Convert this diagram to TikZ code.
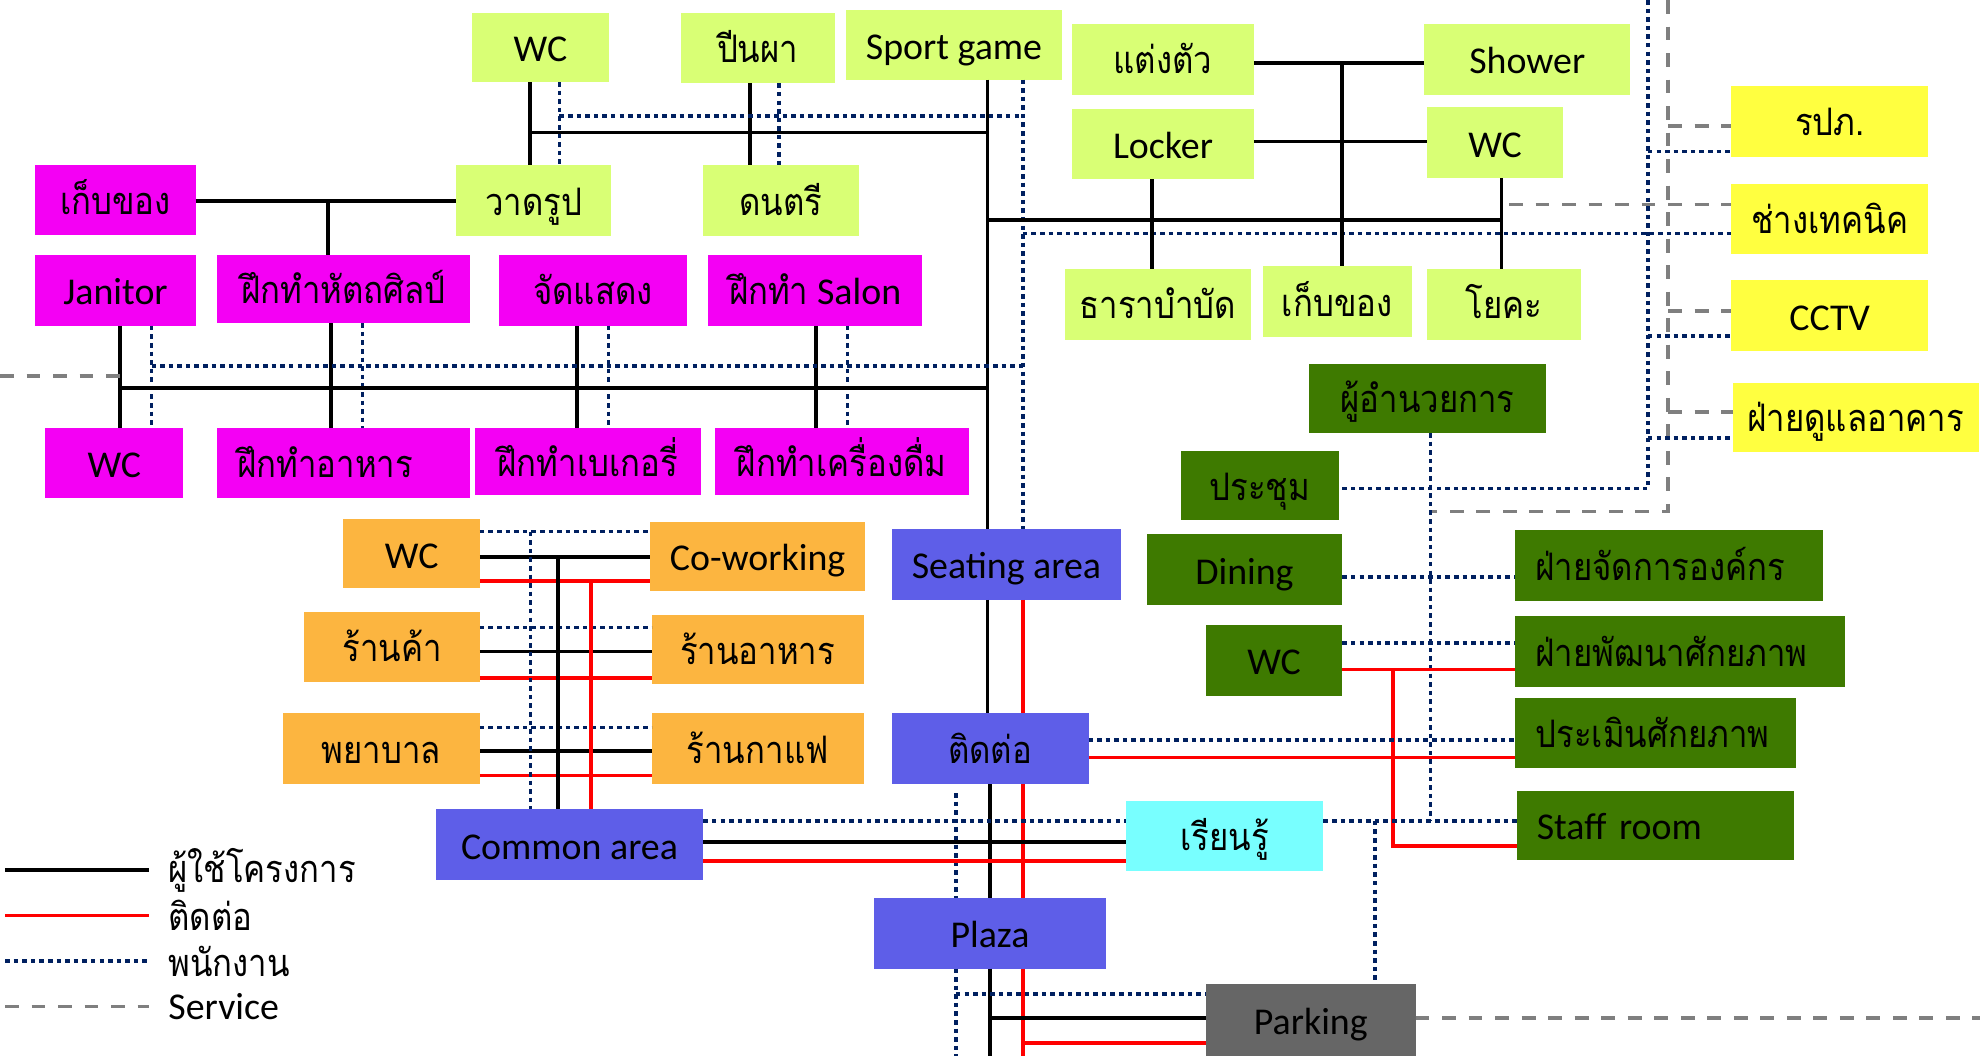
\documentclass[tikz,border=0pt]{standalone}
\usepackage{fontspec}
\setmainfont{Carlito}
\newfontfamily\thai[Script=Thai,FakeStretch=0.87]{Loma}
\definecolor{lime}{HTML}{D9FF75}
\definecolor{mag}{HTML}{F400F4}
\definecolor{orng}{HTML}{FCB540}
\definecolor{blu}{HTML}{5E5EE8}
\definecolor{cyn}{HTML}{78FFFF}
\definecolor{prk}{HTML}{666666}
\definecolor{dgr}{HTML}{3E7A00}
\definecolor{yel}{HTML}{FFFF40}
\definecolor{navy}{HTML}{002060}
\definecolor{svcgray}{HTML}{7F7F7F}
\newcommand\bx[7]{%
  \pgfmathsetmacro\bw{(#4-#2)*0.5}\pgfmathsetmacro\bh{(#5-#3)*0.5}%
  \node[box,#6,minimum width=\bw pt,minimum height=\bh pt] (#1) at ({(#2+#4)/2},{(#3+#5)/2}) {#7};}
\newcommand\bxl[7]{%
  \pgfmathsetmacro\bw{(#4-#2)*0.5-16}\pgfmathsetmacro\bh{(#5-#3)*0.5}%
  \node[box,#6,inner xsep=8pt,text width=\bw pt,align=left,minimum height=\bh pt] (#1) at ({(#2+#4)/2},{(#3+#5)/2}) {#7};}
\begin{document}
\begin{tikzpicture}[x=0.5pt,y=-0.5pt,
  box/.style={rectangle,inner sep=0pt,outer sep=0pt,text=black,text height=13pt,text depth=1.5pt,font=\fontsize{15pt}{18pt}\selectfont},
  lm/.style={fill=lime}, mg/.style={fill=mag}, og/.style={fill=orng},
  bl/.style={fill=blu}, cy/.style={fill=cyn}, pk/.style={fill=prk},
  dg/.style={fill=dgr}, yl/.style={fill=yel},
  usr/.style={draw=black,line width=1.5pt},
  ctc/.style={draw=red,line width=1.4pt},
  stf/.style={draw=navy,line width=1.4pt,dash pattern=on 1.8pt off 1.6pt},
  svc/.style={draw=svcgray,line width=1.5pt,dash pattern=on 5.5pt off 5pt},
  lgt/.style={anchor=west,inner sep=0pt,font=\fontsize{15pt}{18pt}\selectfont}]
\useasboundingbox (0,0) rectangle (1568,836);
\coordinate (jA) at (420,105); \coordinate (jB) at (443,92);
\coordinate (jS) at (782,105); \coordinate (jSd) at (810,92);
% boxes
\bx{tWC}{374}{10}{482}{65}{lm}{WC}
\bx{tClimb}{539}{10}{661}{66}{lm}{\thai ปีนผา}
\bx{tSport}{670}{8}{841}{63}{lm}{Sport game}
\bx{tDraw}{361}{131}{484}{187}{lm}{\thai วาดรูป}
\bx{tMusic}{557}{131}{680}{187}{lm}{\thai ดนตรี}
\bx{tDress}{849}{19}{993}{75}{lm}{\thai แต่งตัว}
\bx{tShower}{1128}{19}{1291}{75}{lm}{Shower}
\bx{tLocker}{849}{86}{993}{142}{lm}{Locker}
\bx{tWCb}{1130}{85}{1238}{141}{lm}{WC}
\bx{tHydro}{843}{213}{991}{269}{lm}{\thai ธาราบำบัด}
\bx{tStore}{1000}{211}{1118}{267}{lm}{\thai เก็บของ}
\bx{tYoga}{1130}{213}{1252}{269}{lm}{\thai โยคะ}
\bx{mStore}{28}{131}{155}{186}{mg}{\thai เก็บของ}
\bx{mJan}{28}{202}{155}{258}{mg}{Janitor}
\bx{mCraft}{172}{202}{372}{256}{mg}{\thai ฝึกทำหัตถศิลป์}
\bx{mShow}{395}{202}{544}{258}{mg}{\thai จัดแสดง}
\bx{mSalon}{561}{202}{730}{258}{mg}{{\thai ฝึกทำ} Salon}
\bx{mWC}{36}{339}{145}{394}{mg}{WC}
\bxl{mCook}{172}{339}{372}{394}{mg}{\thai ฝึกทำอาหาร}
\bx{mBake}{376}{339}{555}{392}{mg}{\thai ฝึกทำเบเกอรี่}
\bx{mDrink}{566}{339}{767}{392}{mg}{\thai ฝึกทำเครื่องดื่ม}
\bx{oWC}{272}{411}{380}{466}{og}{WC}
\bx{oCow}{515}{413}{685}{468}{og}{Co-working}
\bx{oShop}{241}{485}{380}{540}{og}{\thai ร้านค้า}
\bx{oFood}{516}{487}{684}{542}{og}{\thai ร้านอาหาร}
\bx{oNurse}{224}{565}{380}{621}{og}{\thai พยาบาล}
\bx{oCafe}{516}{565}{684}{621}{og}{\thai ร้านกาแฟ}
\bx{bSeat}{706}{419}{888}{475}{bl}{Seating area}
\bx{bContact}{706}{565}{862}{621}{bl}{\thai ติดต่อ}
\bx{bCommon}{345}{641}{557}{697}{bl}{Common area}
\bx{bPlaza}{692}{711}{876}{767}{bl}{Plaza}
\bx{cLearn}{892}{634}{1048}{690}{cy}{\thai เรียนรู้}
\bx{gPark}{955}{779}{1121}{836}{pk}{Parking}
\bx{gDir}{1037}{288}{1224}{343}{dg}{\thai ผู้อำนวยการ}
\bx{gMeet}{935}{357}{1060}{412}{dg}{\thai ประชุม}
\bx{gDine}{908}{423}{1063}{479}{dg}{Dining}
\bx{gWC}{955}{495}{1063}{551}{dg}{WC}
\bxl{gOrg}{1200}{420}{1444}{476}{dg}{\thai ฝ่ายจัดการองค์กร}
\bxl{gDev}{1200}{488}{1461}{544}{dg}{\thai ฝ่ายพัฒนาศักยภาพ}
\bxl{gEval}{1200}{553}{1422}{608}{dg}{\thai ประเมินศักยภาพ}
\bxl{gStaff}{1201}{626}{1421}{681}{dg}{Staff room}
\bx{ySec}{1371}{68}{1527}{124}{yl}{\thai รปภ.}
\bx{yTech}{1371}{146}{1527}{201}{yl}{\thai ช่างเทคนิค}
\bx{yCCTV}{1371}{222}{1527}{278}{yl}{CCTV}
\bx{yBldg}{1372}{303}{1567}{358}{yl}{\thai ฝ่ายดูแลอาคาร}
% ---------- connectors ----------
\draw[usr] (tWC.south -| 420,0) -- (tDraw.north -| 420,0);
\draw[stf] (tWC.south -| 443,0) -- (tDraw.north -| 443,0);
\draw[usr] (tClimb.south -| 594,0) -- (tMusic.north -| 594,0);
\draw[stf] (tClimb.south -| 617,0) -- (tMusic.north -| 617,0);
\draw[usr] (jA) -- (jS);
\draw[stf] (jB) -- (jSd);
\draw[usr] (tSport.south -| 782,0) -- (bSeat.north -| 782,0);
\draw[stf] (tSport.south -| 810,0) -- (bSeat.north -| 810,0);
\draw[usr] (782,174) -- (1189,174);
\draw[stf] (810,185) -- (yTech.west |- 0,185);
\draw[usr] (tDress.east |- 0,50) -- (tShower.west |- 0,50);
\draw[usr] (tLocker.east |- 0,112) -- (tWCb.west |- 0,112);
\draw[usr] (1063,50) -- (tStore.north -| 1063,0);
\draw[usr] (tLocker.south -| 912,0) -- (tHydro.north -| 912,0);
\draw[usr] (tWCb.south -| 1189,0) -- (tYoga.north -| 1189,0);
\draw[svc] (1195,162) -- (yTech.west |- 0,162);
\draw[svc] (1321,0) -- (1321,405) -- (1133,405);
\draw[svc] (1321,100) -- (ySec.west |- 0,100);
\draw[svc] (1321,246) -- (yCCTV.west |- 0,246);
\draw[svc] (1321,326) -- (yBldg.west |- 0,326);
\draw[stf] (1305,0) -- (1305,387) -- (gMeet.east |- 0,387);
\draw[stf] (1305,120) -- (ySec.west |- 0,120);
\draw[stf] (1305,266) -- (yCCTV.west |- 0,266);
\draw[stf] (1305,347) -- (yBldg.west |- 0,347);
\draw[stf] (gDir.south -| 1133,0) -- (1133,650);
\draw[stf] (gDine.east |- 0,457) -- (gOrg.west |- 0,457);
\draw[stf] (gWC.east |- 0,509) -- (gDev.west |- 0,509);
\draw[ctc] (gWC.east |- 0,530) -- (gDev.west |- 0,530);
\draw[ctc] (1103,530) -- (1103,670) -- (gStaff.west |- 0,670);
\draw[stf] (bContact.east |- 0,586) -- (gEval.west |- 0,586);
\draw[ctc] (bContact.east |- 0,600) -- (gEval.west |- 0,600);
\draw[stf] (cLearn.east |- 0,650) -- (gStaff.west |- 0,650);
\draw[stf] (1089,650) -- (gPark.north -| 1089,0);
\draw[usr] (bSeat.south -| 782,0) -- (bContact.north -| 782,0);
\draw[ctc] (bSeat.south -| 810,0) -- (bContact.north -| 810,0);
\draw[usr] (bContact.south -| 784,0) -- (bPlaza.north -| 784,0);
\draw[ctc] (bContact.south -| 810,0) -- (bPlaza.north -| 810,0);
\draw[stf] (757,628) -- (bPlaza.north -| 757,0);
\draw[stf] (bCommon.east |- 0,650) -- (cLearn.west |- 0,650);
\draw[usr] (bCommon.east |- 0,667) -- (cLearn.west |- 0,667);
\draw[ctc] (bCommon.east |- 0,682) -- (cLearn.west |- 0,682);
\draw[usr] (bPlaza.south -| 784,0) -- (784,836);
\draw[ctc] (bPlaza.south -| 810,0) -- (810,836);
\draw[stf] (bPlaza.south -| 757,0) -- (757,836);
\draw[stf] (757,787) -- (gPark.west |- 0,787);
\draw[usr] (784,806) -- (gPark.west |- 0,806);
\draw[ctc] (810,826) -- (gPark.west |- 0,826);
\draw[svc] (gPark.east |- 0,806) -- (1568,806);
\foreach \l/\r/\ya/\yb/\yc in {oWC/oCow/421/441/460, oShop/oFood/497/516/537, oNurse/oCafe/576/595/614}{
  \draw[stf] (\l.east |- 0,\ya) -- (\r.west |- 0,\ya);
  \draw[usr] (\l.east |- 0,\yb) -- (\r.west |- 0,\yb);
  \draw[ctc] (\l.east |- 0,\yc) -- (\r.west |- 0,\yc);
}
\draw[stf] (420,421) -- (bCommon.north -| 420,0);
\draw[usr] (442,441) -- (bCommon.north -| 442,0);
\draw[ctc] (468,460) -- (bCommon.north -| 468,0);
\draw[usr] (mStore.east |- 0,159) -- (tDraw.west |- 0,159);
\draw[usr] (260,159) -- (mCraft.north -| 260,0);
\draw[usr] (mJan.south -| 95,0) -- (mWC.north -| 95,0);
\draw[stf] (mJan.south -| 120,0) -- (mWC.north -| 120,0);
\draw[usr] (mCraft.south -| 262,0) -- (mCook.north -| 262,0);
\draw[stf] (mCraft.south -| 287,0) -- (mCook.north -| 287,0);
\draw[usr] (mShow.south -| 457,0) -- (mBake.north -| 457,0);
\draw[stf] (mShow.south -| 482,0) -- (mBake.north -| 482,0);
\draw[usr] (mSalon.south -| 646,0) -- (mDrink.north -| 646,0);
\draw[stf] (mSalon.south -| 671,0) -- (mDrink.north -| 671,0);
\draw[usr] (95,307) -- (782,307);
\draw[stf] (120,290) -- (810,290);
\draw[svc] (0,298) -- (95,298);
% legend
\node[lgt] (lg1) at (133,689) {\thai ผู้ใช้โครงการ};
\node[lgt] (lg2) at (133,725) {\thai ติดต่อ};
\node[lgt] (lg3) at (133,761) {\thai พนักงาน};
\node[lgt] (lg4) at (133,797) {Service};
\draw[usr] (4,689) -- (118,689);
\draw[ctc] (4,725) -- (118,725);
\draw[stf] (4,761) -- (118,761);
\draw[svc] (4,797) -- (118,797);
\end{tikzpicture}
\end{document}
